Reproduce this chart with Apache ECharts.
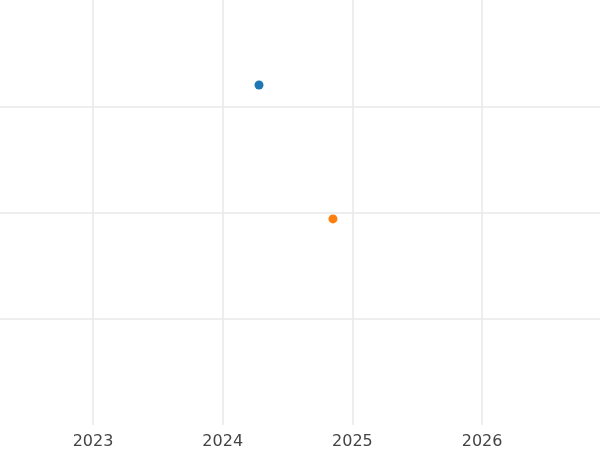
<!DOCTYPE html>
<html><head><meta charset="utf-8">
<script src="https://cdn.jsdelivr.net/npm/echarts@6/dist/echarts.min.js"></script>
<style>html,body{margin:0;padding:0;background:#fff}#c{width:600px;height:450px}</style>
</head><body><div id="c"></div>
<script>
const seriesA = [[2024.28, 3.2]];
const seriesB = [[2024.85, 1.94]];
const xRange = [2022.283, 2026.909];
const yRange = [0, 4];
const chart = echarts.init(document.getElementById('c'));
chart.setOption({
  animation:false,
  grid:{left:0,right:0,top:0,bottom:23},
  xAxis:{type:'value',min:xRange[0],max:xRange[1],
    axisLine:{show:false},axisTick:{show:false},
    splitLine:{showMinLine:false,showMaxLine:false,lineStyle:{color:'#e8e8e8',width:1.5}},
    axisLabel:{showMinLabel:false,showMaxLabel:false,color:'#444',fontSize:16,fontFamily:'DejaVu Sans',margin:9,
      formatter:v=>Number.isInteger(Math.round(v*1000)/1000)?String(Math.round(v)):''}},
  yAxis:{type:'value',min:yRange[0],max:yRange[1],interval:1,
    axisLine:{show:false},axisTick:{show:false},axisLabel:{show:false},
    splitLine:{showMinLine:false,showMaxLine:false,lineStyle:{color:'#e8e8e8',width:1.5}}},
  series:[
    {type:'scatter',data:seriesA,symbolSize:9,itemStyle:{color:'#1f77b4',opacity:1}},
    {type:'scatter',data:seriesB,symbolSize:9,itemStyle:{color:'#ff7f0e',opacity:1}}
  ]
});
</script></body></html>
